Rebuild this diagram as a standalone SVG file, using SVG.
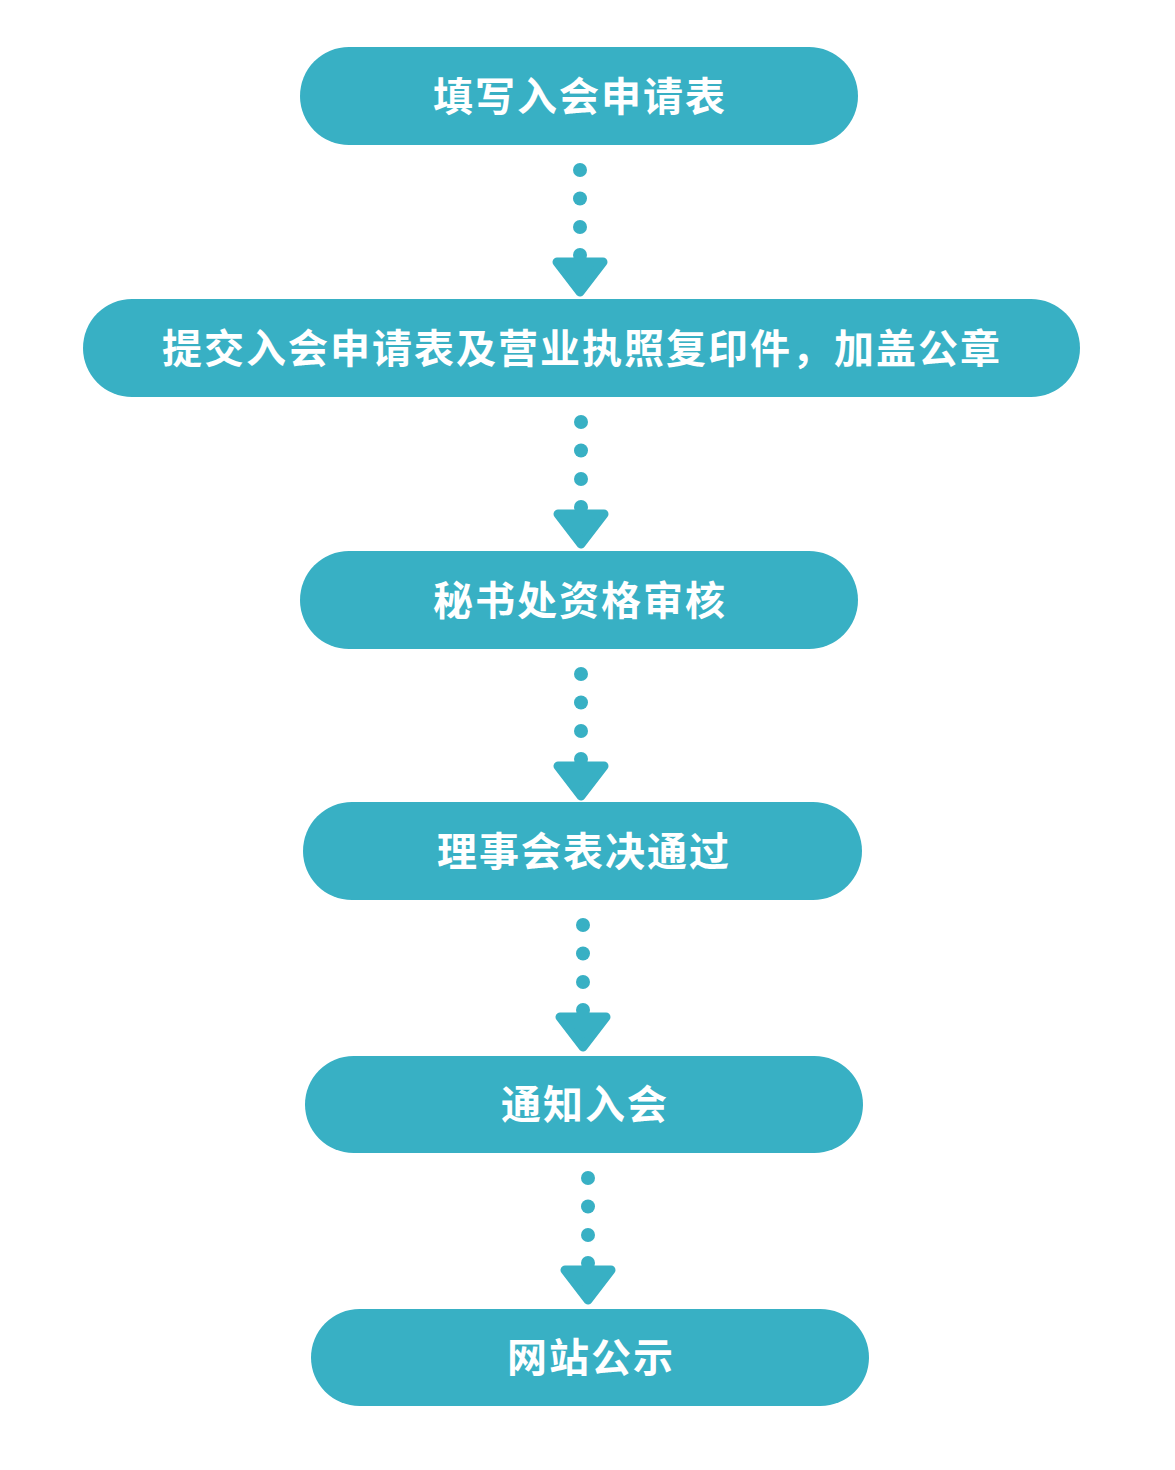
<svg xmlns="http://www.w3.org/2000/svg" width="1175" height="1470" viewBox="0 0 1175 1470">
<defs>
<style>
.box{fill:#38B0C4;}
.lbl{fill:#ffffff;font-family:"Noto Sans CJK SC","Noto Sans",sans-serif;font-weight:bold;font-size:40px;letter-spacing:2px;text-anchor:middle;}
.dot{fill:#38B0C4;}
.head{fill:#38B0C4;stroke:#38B0C4;stroke-width:9;stroke-linejoin:round;}
</style>
<g id="arrow">
<circle class="dot" cx="0" cy="0" r="7"/>
<circle class="dot" cx="0" cy="28.5" r="7"/>
<circle class="dot" cx="0" cy="57" r="7"/>
<circle class="dot" cx="0" cy="85" r="7"/>
<polygon class="head" points="-23,92 23,92 0,122"/>
</g>
</defs>
<rect width="1175" height="1470" fill="#ffffff"/>
<g id="connectors">
<use href="#arrow" x="580" y="170"/>
<use href="#arrow" x="581" y="422"/>
<use href="#arrow" x="581" y="674"/>
<use href="#arrow" x="583" y="925"/>
<use href="#arrow" x="588" y="1178"/>
</g>
<g id="node1"><rect class="box" x="300" y="47" width="558" height="98" rx="49"/><text class="lbl" x="580" y="111">填写入会申请表</text></g>
<g id="node2"><rect class="box" x="83" y="299" width="997" height="98" rx="49"/><text class="lbl" x="582" y="363">提交入会申请表及营业执照复印件，加盖公章</text></g>
<g id="node3"><rect class="box" x="300" y="551" width="558" height="98" rx="49"/><text class="lbl" x="580" y="615">秘书处资格审核</text></g>
<g id="node4"><rect class="box" x="303" y="802" width="559" height="98" rx="49"/><text class="lbl" x="584" y="866">理事会表决通过</text></g>
<g id="node5"><rect class="box" x="305" y="1056" width="558" height="97" rx="48.5"/><text class="lbl" x="585" y="1119">通知入会</text></g>
<g id="node6"><rect class="box" x="311" y="1309" width="558" height="97" rx="48.5"/><text class="lbl" x="591" y="1372">网站公示</text></g>
</svg>
